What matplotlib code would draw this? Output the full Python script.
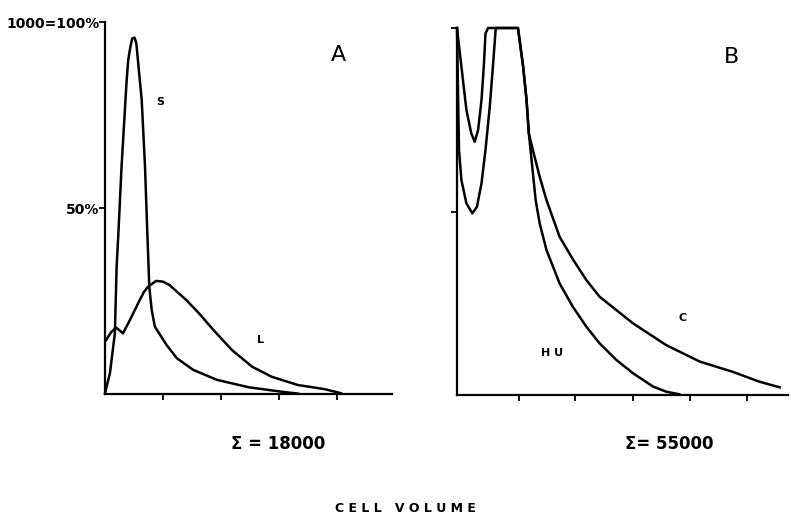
import matplotlib.pyplot as plt
import numpy as np

# Panel A: cell volume distributions (percent of 1000 = 100%)
s_x = [0, 0.085, 0.17, 0.2, 0.23, 0.285, 0.37, 0.4, 0.44, 0.47, 0.51, 0.54, 0.633, 0.69, 0.73,
       0.764, 0.805, 0.86, 0.95, 1.06, 1.24, 1.52, 1.93, 2.48, 3.05, 3.33]
s_y = [0.2, 5.6, 16.3, 34, 43, 61, 83.5, 89.8, 93.5, 95.6, 95.8, 94.3, 79, 61.1, 43.2,
       28.8, 22.6, 18.1, 15.9, 13.2, 9.6, 6.5, 3.8, 1.8, 0.6, 0.1]

l_x = [0.02, 0.1, 0.19, 0.31, 0.43, 0.6, 0.67, 0.74, 0.88, 1.0, 1.11, 1.4, 1.62, 1.87, 2.19,
       2.54, 2.88, 3.33, 3.79, 4.07]
l_y = [14.5, 16.5, 17.9, 16.3, 19.9, 25.3, 27.4, 28.8, 30.4, 30.2, 29.3, 25.3, 21.7, 17.2,
       11.8, 7.3, 4.6, 2.4, 1.3, 0.2]

# Panel B
c_x = [0, 0.077, 0.165, 0.25, 0.31, 0.37, 0.43, 0.47, 0.5, 0.545, 1.07, 1.16, 1.22, 1.26,
       1.33, 1.45, 1.57, 1.8, 2.04, 2.27, 2.5, 3.09, 3.67, 4.26, 4.84, 5.31, 5.66]
c_y = [100, 89.5, 77.7, 71.3, 69, 72.2, 80.4, 89.5, 98.5, 100, 100, 89.5, 80.4, 71.3,
       66.8, 59.5, 53.1, 43.1, 36.8, 31.3, 26.8, 19.5, 13.6, 9.1, 6.3, 3.6, 2.1]

hu_x = [0, 0.02, 0.035, 0.077, 0.165, 0.27, 0.35, 0.43, 0.5, 0.575, 0.63, 0.68, 1.07, 1.16,
        1.22, 1.26, 1.32, 1.38, 1.45, 1.57, 1.8, 2.03, 2.27, 2.5, 2.8, 3.09, 3.44, 3.67, 3.9]
hu_y = [100, 80.4, 66.8, 58.6, 52.2, 49.5, 51.3, 57.7, 66.8, 78.6, 89.5, 100, 100, 89.5,
        80.4, 71.3, 62.2, 53.1, 46.8, 39.5, 30.4, 24.1, 18.6, 14.1, 9.5, 5.9, 2.3, 0.9, 0.2]

a_xticks = [1, 2, 3, 4]
b_xticks = [1.09, 2.07, 3.09, 4.09, 5.09]
y_ticks = [50, 100]
a_ylabels = ['50%', '1000=100%']

W, H = 791, 516
fig = plt.figure(figsize=(W / 100, H / 100), dpi=100)

lw = 1.8
axA = fig.add_axes([105 / W, 1 - 394 / H, 287 / W, 372 / H])
axB = fig.add_axes([457 / W, 1 - 395 / H, 331 / W, 367 / H])

for ax in (axA, axB):
    ax.spines['top'].set_visible(False)
    ax.spines['right'].set_visible(False)
    ax.spines['left'].set_linewidth(1.6)
    ax.spines['bottom'].set_linewidth(1.6)
    ax.set_ylim(0, 100)
    ax.set_yticks(y_ticks)
    ax.tick_params(axis='x', direction='out', length=4, width=1.3, labelbottom=False)
    ax.tick_params(axis='y', direction='out', length=4, width=1.3, pad=0)

axA.set_xlim(0, 287 / 58)
axA.set_xticks(a_xticks)
axA.set_yticklabels(a_ylabels, fontsize=10, fontweight='bold')
axA.plot(s_x, s_y, color='black', lw=lw, clip_on=False, solid_joinstyle='round')
axA.plot(l_x, l_y, color='black', lw=lw, clip_on=False, solid_joinstyle='round')
axA.text(338 / W, 1 - 55 / H, 'A', transform=fig.transFigure, fontsize=16,
         ha='center', va='center')
axA.text(160 / W, 1 - 102 / H, 'S', transform=fig.transFigure, fontsize=8,
         fontweight='bold', ha='center', va='center')
axA.text(260 / W, 1 - 340 / H, 'L', transform=fig.transFigure, fontsize=8,
         fontweight='bold', ha='center', va='center')

axB.set_xlim(0, 331 / 57)
axB.set_xticks(b_xticks)
axB.set_yticklabels([])
axB.plot(c_x, c_y, color='black', lw=lw, clip_on=False, solid_joinstyle='round')
axB.plot(hu_x, hu_y, color='black', lw=lw, clip_on=False, solid_joinstyle='round')
axB.text(732 / W, 1 - 57 / H, 'B', transform=fig.transFigure, fontsize=16,
         ha='center', va='center')
axB.text(683 / W, 1 - 318 / H, 'C', transform=fig.transFigure, fontsize=8,
         fontweight='bold', ha='center', va='center')
axB.text(552 / W, 1 - 353 / H, 'H U', transform=fig.transFigure, fontsize=8,
         fontweight='bold', ha='center', va='center')

fig.text(278 / W, 1 - 444 / H, 'Σ = 18000', fontsize=12, fontweight='bold',
         ha='center', va='center')
fig.text(669 / W, 1 - 444 / H, 'Σ= 55000', fontsize=12, fontweight='bold',
         ha='center', va='center')
fig.text(405 / W, 1 - 508 / H, 'C E L L   V O L U M E', fontsize=9, fontweight='bold',
         ha='center', va='center')

fig.savefig('out.png', dpi=100)
